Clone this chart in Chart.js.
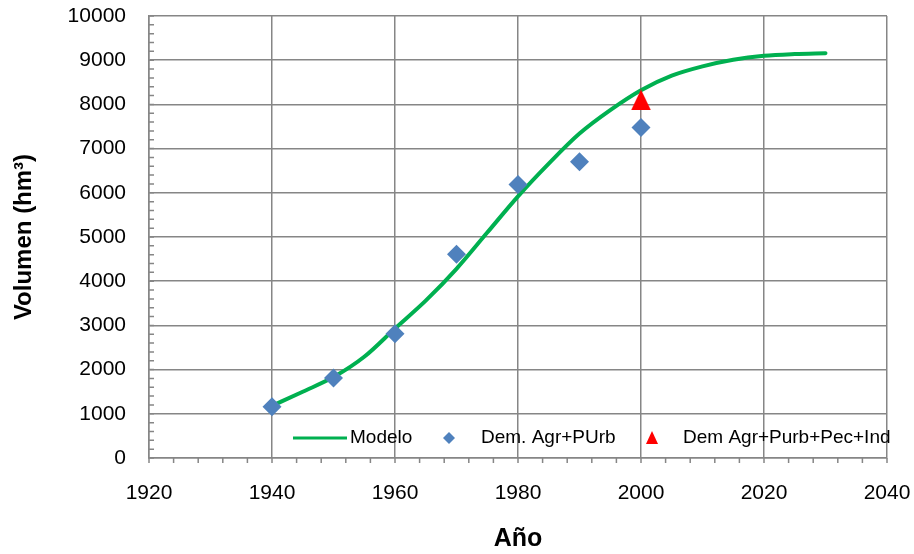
<!DOCTYPE html>
<html>
<head>
<meta charset="utf-8">
<script src="https://cdn.jsdelivr.net/npm/chart.js@4/dist/chart.umd.min.js"></script>
<style>
  html, body { margin: 0; padding: 0; background: #fff; }
  #wrap { width: 914px; height: 554px; }
</style>
</head>
<body>
<div id="wrap"><canvas id="chart" width="914" height="554"></canvas></div>
<script>
// Fitted model (hm³), every 5 years
const modelYears  = [1940, 1945, 1950, 1955, 1960, 1965, 1970, 1975, 1980, 1985, 1990, 1995, 2000, 2005, 2010, 2015, 2020, 2025, 2030];
const modelValues = [1180, 1500, 1830, 2290, 2930, 3560, 4280, 5100, 5920, 6660, 7340, 7870, 8320, 8650, 8860, 9010, 9100, 9140, 9160];

// Agricultural + urban demand
const demandYears  = [1940, 1950, 1960, 1970, 1980, 1990, 2000];
const demandValues = [1160, 1810, 2810, 4610, 6190, 6700, 7480];

// Agricultural + urban + livestock + industrial demand
const totalYears  = [2000];
const totalValues = [8100];

const seriesNames = ['Modelo', 'Dem. Agr+PUrb', 'Dem Agr+Purb+Pec+Ind'];

const xTickValues = [1920, 1940, 1960, 1980, 2000, 2020, 2040];
const yTickValues = [0, 1000, 2000, 3000, 4000, 5000, 6000, 7000, 8000, 9000, 10000];
const xMinorStep = 4;
const yMinorStep = 200;

const FONT = "'Liberation Sans', Arial, Helvetica, sans-serif";
const GRID = '#868686';
const GREEN = '#00B050';
const BLUE = '#4F81BD';
const RED = '#FF0000';

function triangleSprite(w, h, color) {
  const c = document.createElement('canvas');
  c.width = w; c.height = h;
  const g = c.getContext('2d');
  g.fillStyle = color;
  g.beginPath();
  g.moveTo(w / 2, 0);
  g.lineTo(w, h);
  g.lineTo(0, h);
  g.closePath();
  g.fill();
  return c;
}

const bigTriangle = triangleSprite(20, 21, RED);

const toXY = (xs, ys) => xs.map((x, i) => ({ x: x, y: ys[i] }));

// Small tick marks along both axes
const minorTicks = {
  id: 'minorTicks',
  afterDraw(chart) {
    const { ctx, chartArea: a, scales: { x, y } } = chart;
    ctx.save();
    ctx.strokeStyle = GRID;
    ctx.lineWidth = 1.5;
    ctx.beginPath();
    for (let v = x.min; v <= x.max; v += xMinorStep) {
      const px = x.getPixelForValue(v);
      ctx.moveTo(px, a.bottom);
      ctx.lineTo(px, a.bottom + 5);
    }
    for (let v = y.min; v <= y.max; v += yMinorStep) {
      const py = y.getPixelForValue(v);
      ctx.moveTo(a.left, py);
      ctx.lineTo(a.left + 5, py);
    }
    ctx.stroke();
    ctx.restore();
  }
};

// Legend drawn inside the plot, along its bottom edge
const insideLegend = {
  id: 'insideLegend',
  afterDraw(chart) {
    const { ctx, chartArea: a } = chart;
    const cy = a.bottom - 20;
    const L = a.left;
    ctx.save();
    ctx.font = '19px ' + FONT;
    ctx.fillStyle = '#000';
    ctx.textBaseline = 'middle';
    ctx.textAlign = 'left';

    // line sample
    ctx.strokeStyle = GREEN;
    ctx.lineWidth = 3;
    ctx.beginPath();
    ctx.moveTo(L + 144, cy);
    ctx.lineTo(L + 198, cy);
    ctx.stroke();
    ctx.fillText(seriesNames[0], L + 201, cy);

    // diamond sample
    ctx.fillStyle = BLUE;
    ctx.beginPath();
    const dx = L + 300, r = 6;
    ctx.moveTo(dx - r, cy);
    ctx.lineTo(dx, cy - r);
    ctx.lineTo(dx + r, cy);
    ctx.lineTo(dx, cy + r);
    ctx.closePath();
    ctx.fill();
    ctx.fillStyle = '#000';
    ctx.fillText(seriesNames[1], L + 332, cy);

    // triangle sample
    ctx.fillStyle = RED;
    const tx = L + 503;
    ctx.beginPath();
    ctx.moveTo(tx, cy - 7);
    ctx.lineTo(tx + 6, cy + 6);
    ctx.lineTo(tx - 6, cy + 6);
    ctx.closePath();
    ctx.fill();
    ctx.fillStyle = '#000';
    ctx.fillText(seriesNames[2], L + 534, cy);
    ctx.restore();
  }
};

new Chart(document.getElementById('chart'), {
  type: 'scatter',
  data: {
    datasets: [
      {
        label: seriesNames[0],
        data: toXY(modelYears, modelValues),
        showLine: true,
        borderColor: GREEN,
        borderWidth: 4,
        borderCapStyle: 'round',
        cubicInterpolationMode: 'monotone',
        pointRadius: 0,
        fill: false,
        order: 3
      },
      {
        label: seriesNames[1],
        data: toXY(demandYears, demandValues),
        pointStyle: 'rectRot',
        pointRadius: 9.5,
        backgroundColor: BLUE,
        borderWidth: 0,
        order: 2
      },
      {
        label: seriesNames[2],
        data: toXY(totalYears, totalValues),
        pointStyle: bigTriangle,
        pointRadius: 10,
        backgroundColor: RED,
        borderWidth: 0,
        order: 1
      }
    ]
  },
  options: {
    responsive: false,
    animation: false,
    layout: { padding: { top: 16, right: 27, left: 0, bottom: 0 } },
    plugins: { legend: { display: false }, tooltip: { enabled: false } },
    scales: {
      x: {
        type: 'linear',
        min: 1920,
        max: 2040,
        afterBuildTicks: s => { s.ticks = xTickValues.map(v => ({ value: v })); },
        afterFit: s => { s.height = 96; s.paddingLeft = 0; s.paddingRight = 0; },
        ticks: {
          padding: 23,
          color: '#000',
          font: { family: FONT, size: 21 },
          callback: v => String(v)
        },
        grid: { color: GRID, lineWidth: 1.5, drawTicks: false },
        border: { color: GRID, width: 1.5 },
        title: {
          display: true,
          text: 'Año',
          color: '#000',
          font: { family: FONT, size: 25, weight: 'bold' },
          padding: { top: 0, bottom: 0 }
        }
      },
      y: {
        min: 0,
        max: 10000,
        afterBuildTicks: s => { s.ticks = yTickValues.map(v => ({ value: v })); },
        afterFit: s => { s.width = 149; s.paddingTop = 0; s.paddingBottom = 0; },
        ticks: {
          padding: 23,
          color: '#000',
          font: { family: FONT, size: 21 },
          callback: v => String(v)
        },
        grid: { color: GRID, lineWidth: 1.5, drawTicks: false },
        border: { color: GRID, width: 1.5 },
        title: {
          display: true,
          text: 'Volumen (hm³)',
          color: '#000',
          font: { family: FONT, size: 24, weight: 'bold' },
          padding: { top: 10, bottom: 0 }
        }
      }
    }
  },
  plugins: [minorTicks, insideLegend]
});
</script>
</body>
</html>
